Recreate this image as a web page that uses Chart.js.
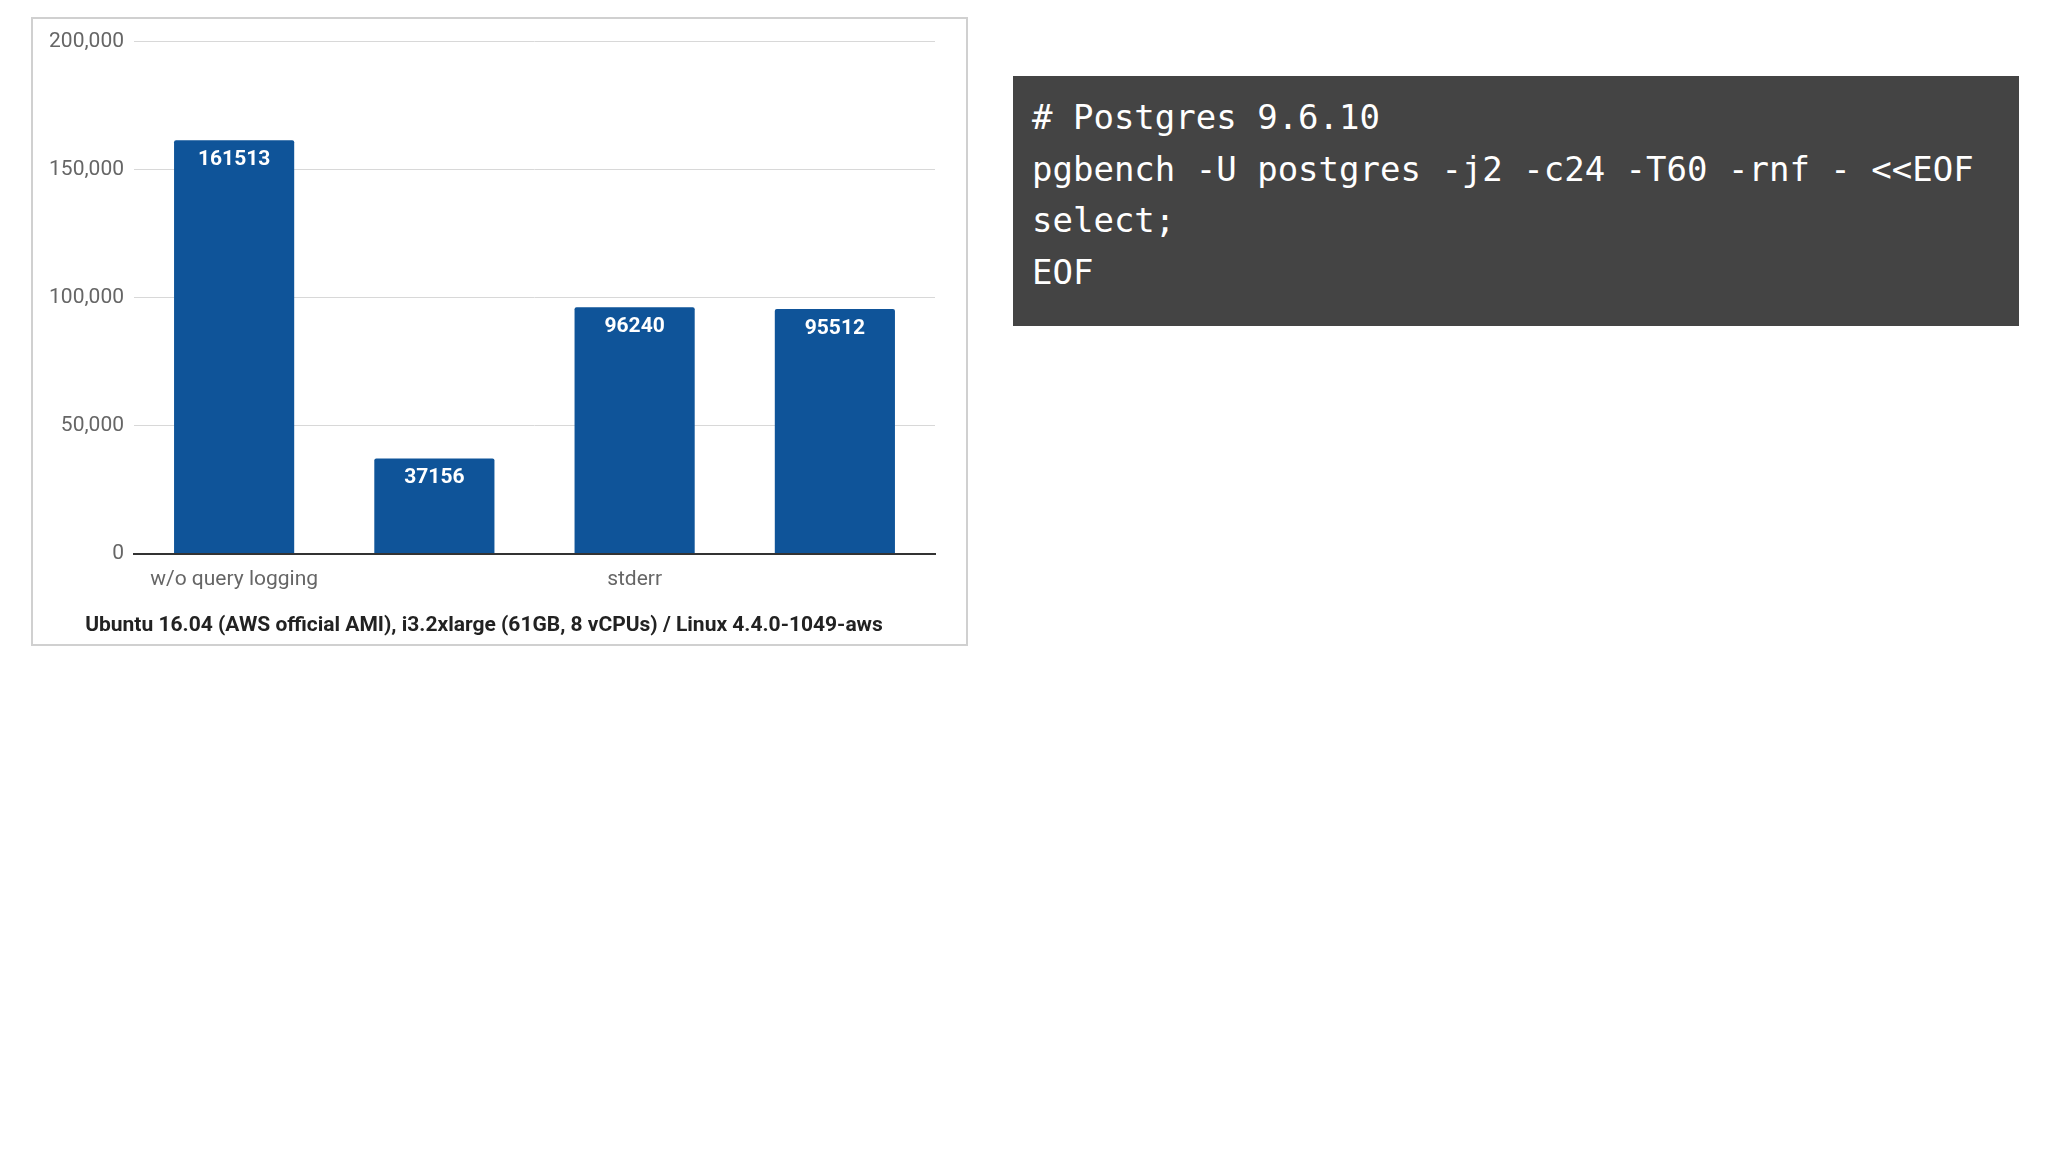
<!DOCTYPE html>
<html><head><meta charset="utf-8">
<script src="https://cdn.jsdelivr.net/npm/chart.js@4"></script>
<style>
body{margin:0;width:2048px;height:1152px;background:#fff;position:relative;font-family:Roboto,sans-serif}
#box{position:absolute;left:31px;top:17px;width:933px;height:625px;border:2px solid #d0d0d0}
#code{position:absolute;left:1013px;top:76px;width:1006px;height:250px;background:#444;color:#fff;font-family:"DejaVu Sans Mono",monospace;font-size:34px;line-height:51.5px;box-sizing:border-box;padding:16px 19px;white-space:pre}
</style></head><body>
<div id="box"><canvas id="c" width="933" height="625"></canvas></div>
<div id="code"># Postgres 9.6.10
pgbench -U postgres -j2 -c24 -T60 -rnf - &lt;&lt;EOF
select;
EOF</div>
<script>
const categories=["w/o query logging","syslog","stderr","csvlog/logging collector"];
const values=[161513,37156,96240,95512];
const subtitle="Ubuntu 16.04 (AWS official AMI), i3.2xlarge (61GB, 8 vCPUs) / Linux 4.4.0-1049-aws";
const labelPlugin={id:'lbl',afterDatasetsDraw(ch){const ctx=ch.ctx;const m=ch.getDatasetMeta(0);ctx.save();ctx.fillStyle='#fff';ctx.font='bold 21px Roboto';ctx.textAlign='center';ctx.textBaseline='top';m.data.forEach((b,i)=>ctx.fillText(values[i],b.x,b.y+9));ctx.restore();}};
new Chart(document.getElementById('c'),{type:'bar',
data:{labels:categories,datasets:[{data:values,backgroundColor:'#0f5499',barPercentage:0.6,categoryPercentage:1,borderRadius:{topLeft:2,topRight:2}}]},
options:{responsive:false,animation:false,
layout:{padding:{top:22,right:31,left:0,bottom:6}},
plugins:{legend:{display:false},tooltip:{enabled:false},
title:{display:true,text:subtitle,position:'bottom',color:'#222',font:{family:'Roboto',size:21},padding:{top:14,bottom:0}}},
scales:{
x:{grid:{display:false},border:{color:'#333',width:2},ticks:{color:'#666',font:{family:'Roboto',size:21},padding:6,maxRotation:0}},
y:{min:0,max:200000,afterFit(s){s.width=101},ticks:{stepSize:50000,color:'#666',font:{family:'Roboto',size:21},padding:10},grid:{color:'#d8d8d8',drawTicks:false},border:{display:false}}}
},plugins:[labelPlugin]});
</script></body></html>
